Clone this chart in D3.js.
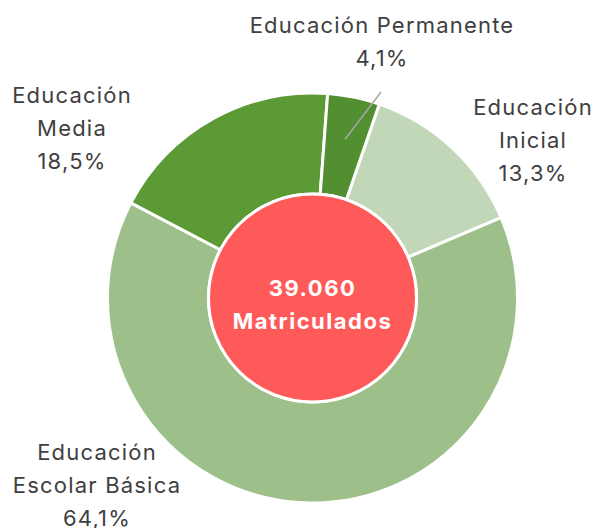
<!DOCTYPE html>
<html>
<head>
<meta charset="utf-8">
<script src="https://cdn.jsdelivr.net/npm/d3@7"></script>
<style>
  html, body { margin: 0; padding: 0; background: #fff; }
  svg { display: block; font-family: Inter, "Open Sans", sans-serif; }
</style>
</head>
<body>
<svg id="chart"></svg>
<script>
(function () {
    'use strict';

    const width = 596;
    const height = 528;

    // data
    const categories = ['Educación Inicial', 'Educación Escolar Básica', 'Educación Media', 'Educación Permanente'];
    const shares = [13.3, 64.1, 18.5, 4.1];
    const labelLines = [
        ['Educación', 'Inicial', '13,3%'],
        ['Educación', 'Escolar Básica', '64,1%'],
        ['Educación', 'Media', '18,5%'],
        ['Educación Permanente', '4,1%']
    ];
    const totalText = ['39.060', 'Matriculados'];

    const colors = ['#c2d6b8', '#9dc08b', '#5b9a35', '#528f30'];

    const cx = 312.5, cy = 298;
    const outerR = 205;
    const innerR = 104;
    const offset = 19 * Math.PI / 180;

    // label anchor positions (x center, first line y)
    const labelPos = [
        { x: 533, y: 115 },
        { x: 97, y: 460 },
        { x: 72, y: 103 },
        { x: 382, y: 33 }
    ];

    const svg = d3.select('#chart')
        .attr('width', width)
        .attr('height', height)
        .attr('viewBox', [0, 0, width, height]);

    const pie = d3.pie()
        .sort(null)
        .value(d => d)
        .startAngle(offset)
        .endAngle(offset + 2 * Math.PI);

    const arc = d3.arc()
        .innerRadius(innerR)
        .outerRadius(outerR);

    const arcs = pie(shares);

    const g = svg.append('g').attr('transform', `translate(${cx},${cy})`);

    g.selectAll('path.slice')
        .data(arcs)
        .join('path')
        .attr('class', 'slice')
        .attr('d', arc)
        .attr('fill', (d, i) => colors[i])
        .attr('stroke', '#fff')
        .attr('stroke-width', 3)
        .attr('stroke-linejoin', 'round');

    // center circle
    g.append('circle')
        .attr('r', innerR)
        .attr('fill', '#ff5a5a')
        .attr('stroke', '#fff')
        .attr('stroke-width', 3);

    g.append('text')
        .attr('text-anchor', 'middle')
        .attr('fill', '#fff')
        .attr('font-weight', 700)
        .attr('font-size', 22)
        .attr('letter-spacing', 1.5)
        .selectAll('tspan')
        .data(totalText)
        .join('tspan')
        .attr('x', 0)
        .attr('y', (d, i) => -2 + i * 33)
        .text(d => d);

    // leader line for the small slice
    const perm = arcs[3];
    const lineIn = d3.arc().innerRadius(162).outerRadius(162).centroid(perm);
    g.append('line')
        .attr('x1', lineIn[0]).attr('y1', lineIn[1])
        .attr('x2', 381 - cx).attr('y2', 92 - cy)
        .attr('stroke', '#a6a6a6')
        .attr('stroke-width', 1.5);

    // labels
    const labels = svg.append('g')
        .attr('fill', '#404040')
        .attr('font-size', 22)
        .attr('letter-spacing', 1.2)
        .attr('text-anchor', 'middle');

    labels.selectAll('text')
        .data(labelLines)
        .join('text')
        .attr('transform', (d, i) => `translate(${labelPos[i].x},${labelPos[i].y})`)
        .selectAll('tspan')
        .data(d => d)
        .join('tspan')
        .attr('x', 0)
        .attr('y', (d, i) => i * 33)
        .text(d => d);
})();
</script>
</body>
</html>
